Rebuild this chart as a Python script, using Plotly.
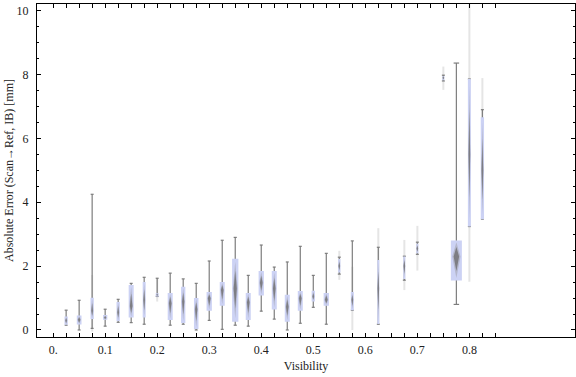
import plotly.graph_objects as go
import numpy as np

# ---- data ----
visibility = [0.025, 0.05, 0.075, 0.1, 0.125, 0.15, 0.175, 0.2, 0.225, 0.25, 0.275, 0.3,
              0.325, 0.35, 0.375, 0.4, 0.425, 0.45, 0.475, 0.5, 0.525, 0.55, 0.575,
              0.625, 0.675, 0.7, 0.75, 0.775, 0.8, 0.825]
whisker_lo = [0.15, 0.0, 0.05, 0.12, 0.24, 0.23, 0.18, 1.05, 0.15, 0.18, 0.0, 0.3,
              0.02, 0.15, 0.12, 0.59, 0.34, 0.0, 0.21, 0.71, 0.18, 1.75, 0.62,
              0.18, 1.56, 2.37, 7.8, 0.8, 3.24, 3.47]
quart1 = [0.16, 0.17, 0.34, 0.32, 0.28, 0.39, 0.39, 1.05, 0.31, 0.22, 0.03, 0.6,
          0.76, 0.26, 0.31, 1.08, 0.64, 0.26, 0.6, 0.89, 0.76, 1.8, 0.62,
          0.19, 1.6, 2.4, 7.82, 1.55, 3.24, 3.47]
median = [0.3, 0.32, 0.6, 0.38, 0.55, 0.75, 0.94, 1.1, 0.84, 0.89, 0.65, 0.99,
          1.25, 1.3, 0.87, 1.48, 1.3, 0.73, 0.99, 1.05, 0.95, 2.0, 0.95,
          1.3, 2.0, 2.55, 7.9, 2.3, 5.5, 5.0]
quart3 = [0.42, 0.45, 1.01, 0.47, 0.88, 1.41, 1.5, 1.15, 1.16, 1.35, 1.0, 1.19,
          1.5, 2.23, 1.16, 1.85, 1.85, 1.1, 1.22, 1.23, 1.16, 2.22, 1.19,
          2.19, 2.3, 2.7, 7.95, 2.8, 7.86, 6.66]
whisker_hi = [0.62, 0.93, 4.25, 0.65, 0.96, 1.46, 1.65, 1.62, 1.78, 1.6, 1.46, 2.16,
              2.81, 2.9, 1.71, 2.66, 1.97, 2.13, 2.62, 1.71, 2.4, 2.28, 2.79,
              2.59, 2.31, 2.75, 7.98, 8.36, 7.86, 6.9]
# relative box widths (sample-size weighting)
box_weight = [3.3, 4.7, 3.3, 4.3, 3.3, 5.0, 3.0, 3.0, 5.0, 4.3, 4.5, 5.3,
              5.0, 6.3, 5.0, 5.3, 5.0, 5.0, 5.0, 3.3, 5.3, 2.3, 3.0,
              2.0, 2.0, 2.0, 2.0, 11.0, 3.0, 3.3]
# faint density tails
tail_lo = [None, None, -0.05, None, None, None, None, 0.89, None, None, None, None,
           None, None, None, None, None, None, None, None, None, 1.57, 0.0,
           0.18, 1.25, 1.86, 7.52, None, 1.51, 3.67]
tail_hi = [None, None, 1.72, None, None, None, None, 1.62, None, None, None, None,
           None, None, None, None, None, None, None, None, None, 2.48, 1.98,
           3.19, 2.82, 3.26, 8.25, None, 10.4, 7.89]

x_tickvals = [0.0, 0.1, 0.2, 0.3, 0.4, 0.5, 0.6, 0.7, 0.8]
x_ticktext = ["0.", "0.1", "0.2", "0.3", "0.4", "0.5", "0.6", "0.7", "0.8"]
y_tickvals = [0, 2, 4, 6, 8, 10]

# ---- styling ----
PX = 1.0 / 520.0  # data units per pixel along x
WHISKER = "rgb(125,125,125)"
BOXFILL = "rgb(204,210,244)"
FONT = "Liberation Serif, Times New Roman, serif"

w = np.array(box_weight) * PX

fig = go.Figure()

# faint tails
tx, ty = [], []
for x, lo, hi in zip(visibility, tail_lo, tail_hi):
    if lo is None:
        continue
    tx += [x, x, None]
    ty += [lo, hi, None]
fig.add_trace(go.Scatter(x=tx, y=ty, mode="lines",
                         line=dict(color="rgba(170,170,170,0.3)", width=2),
                         hoverinfo="skip", showlegend=False))

# whiskers with caps
wx, wy = [], []
for x, lo, hi, bw in zip(visibility, whisker_lo, whisker_hi, w):
    cap = max(bw * 0.5, 3 * PX) / 2
    wx += [x, x, None, x - cap, x + cap, None, x - cap, x + cap, None]
    wy += [lo, hi, None, lo, lo, None, hi, hi, None]
fig.add_trace(go.Scatter(x=wx, y=wy, mode="lines",
                         line=dict(color=WHISKER, width=1.2),
                         hoverinfo="skip", showlegend=False))

# boxes (drawn above the whiskers)
bx, by = [], []
for x, q1, q3, bw in zip(visibility, quart1, quart3, w):
    hw = bw / 2
    bx += [x - hw, x + hw, x + hw, x - hw, x - hw, None]
    by += [q1, q1, q3, q3, q1, None]
fig.add_trace(go.Scatter(x=bx, y=by, mode="lines", fill="toself",
                         fillcolor=BOXFILL, line=dict(width=0),
                         hoverinfo="skip", showlegend=False))

# density spindles around the median
def spindle(scale_h, scale_w, color):
    sx, sy = [], []
    for x, q1, md, q3, bw in zip(visibility, quart1, median, quart3, w):
        lo = md - (md - q1) * scale_h
        hi = md + (q3 - md) * scale_h
        hw = max(bw * scale_w, 1.6 * PX) / 2
        sx += [x, x + hw, x, x - hw, x, None]
        sy += [lo, md, hi, md, lo, None]
    fig.add_trace(go.Scatter(x=sx, y=sy, mode="lines", fill="toself",
                             fillcolor=color, line=dict(width=0),
                             hoverinfo="skip", showlegend=False))

spindle(0.9, 0.75, "rgba(150,150,155,0.45)")
spindle(0.6, 0.5, "rgba(115,115,118,0.85)")

fig.update_layout(
    width=576, height=377,
    margin=dict(l=37, r=1, t=4, b=40),
    paper_bgcolor="white", plot_bgcolor="white",
    font=dict(family=FONT, size=12, color="#222"),
    xaxis=dict(range=[-0.031, 1.003], tickvals=x_tickvals, ticktext=x_ticktext,
               ticks="inside", ticklen=4, tickcolor="black", tickwidth=1,
               minor=dict(tickvals=[i * 0.025 for i in range(35)], ticks="inside",
                          ticklen=4, tickcolor="black", tickwidth=1),
               showline=True, linecolor="black", linewidth=1, mirror="allticks",
               showgrid=False, zeroline=False, ticklabelstandoff=2, automargin=False,
               title=dict(text="Visibility", font=dict(size=12), standoff=5),
               tickfont=dict(size=12)),
    yaxis=dict(range=[-0.22, 10.21], tickvals=y_tickvals,
               ticks="inside", ticklen=4, tickcolor="black", tickwidth=1,
               minor=dict(dtick=0.5, tick0=0, ticks="inside", ticklen=2,
                          tickcolor="black", tickwidth=1),
               showline=True, linecolor="black", linewidth=1, mirror="allticks",
               showgrid=False, zeroline=False, ticklabelstandoff=5, automargin=False,
               title=dict(text="Absolute Error (Scan→Ref, IB) [mm]", font=dict(size=12),
                          standoff=0),
               tickfont=dict(size=12)),
)

fig.write_html("out.html", config={"displayModeBar": False},
               post_script="document.body.style.margin='0';document.body.style.overflow='hidden';")
